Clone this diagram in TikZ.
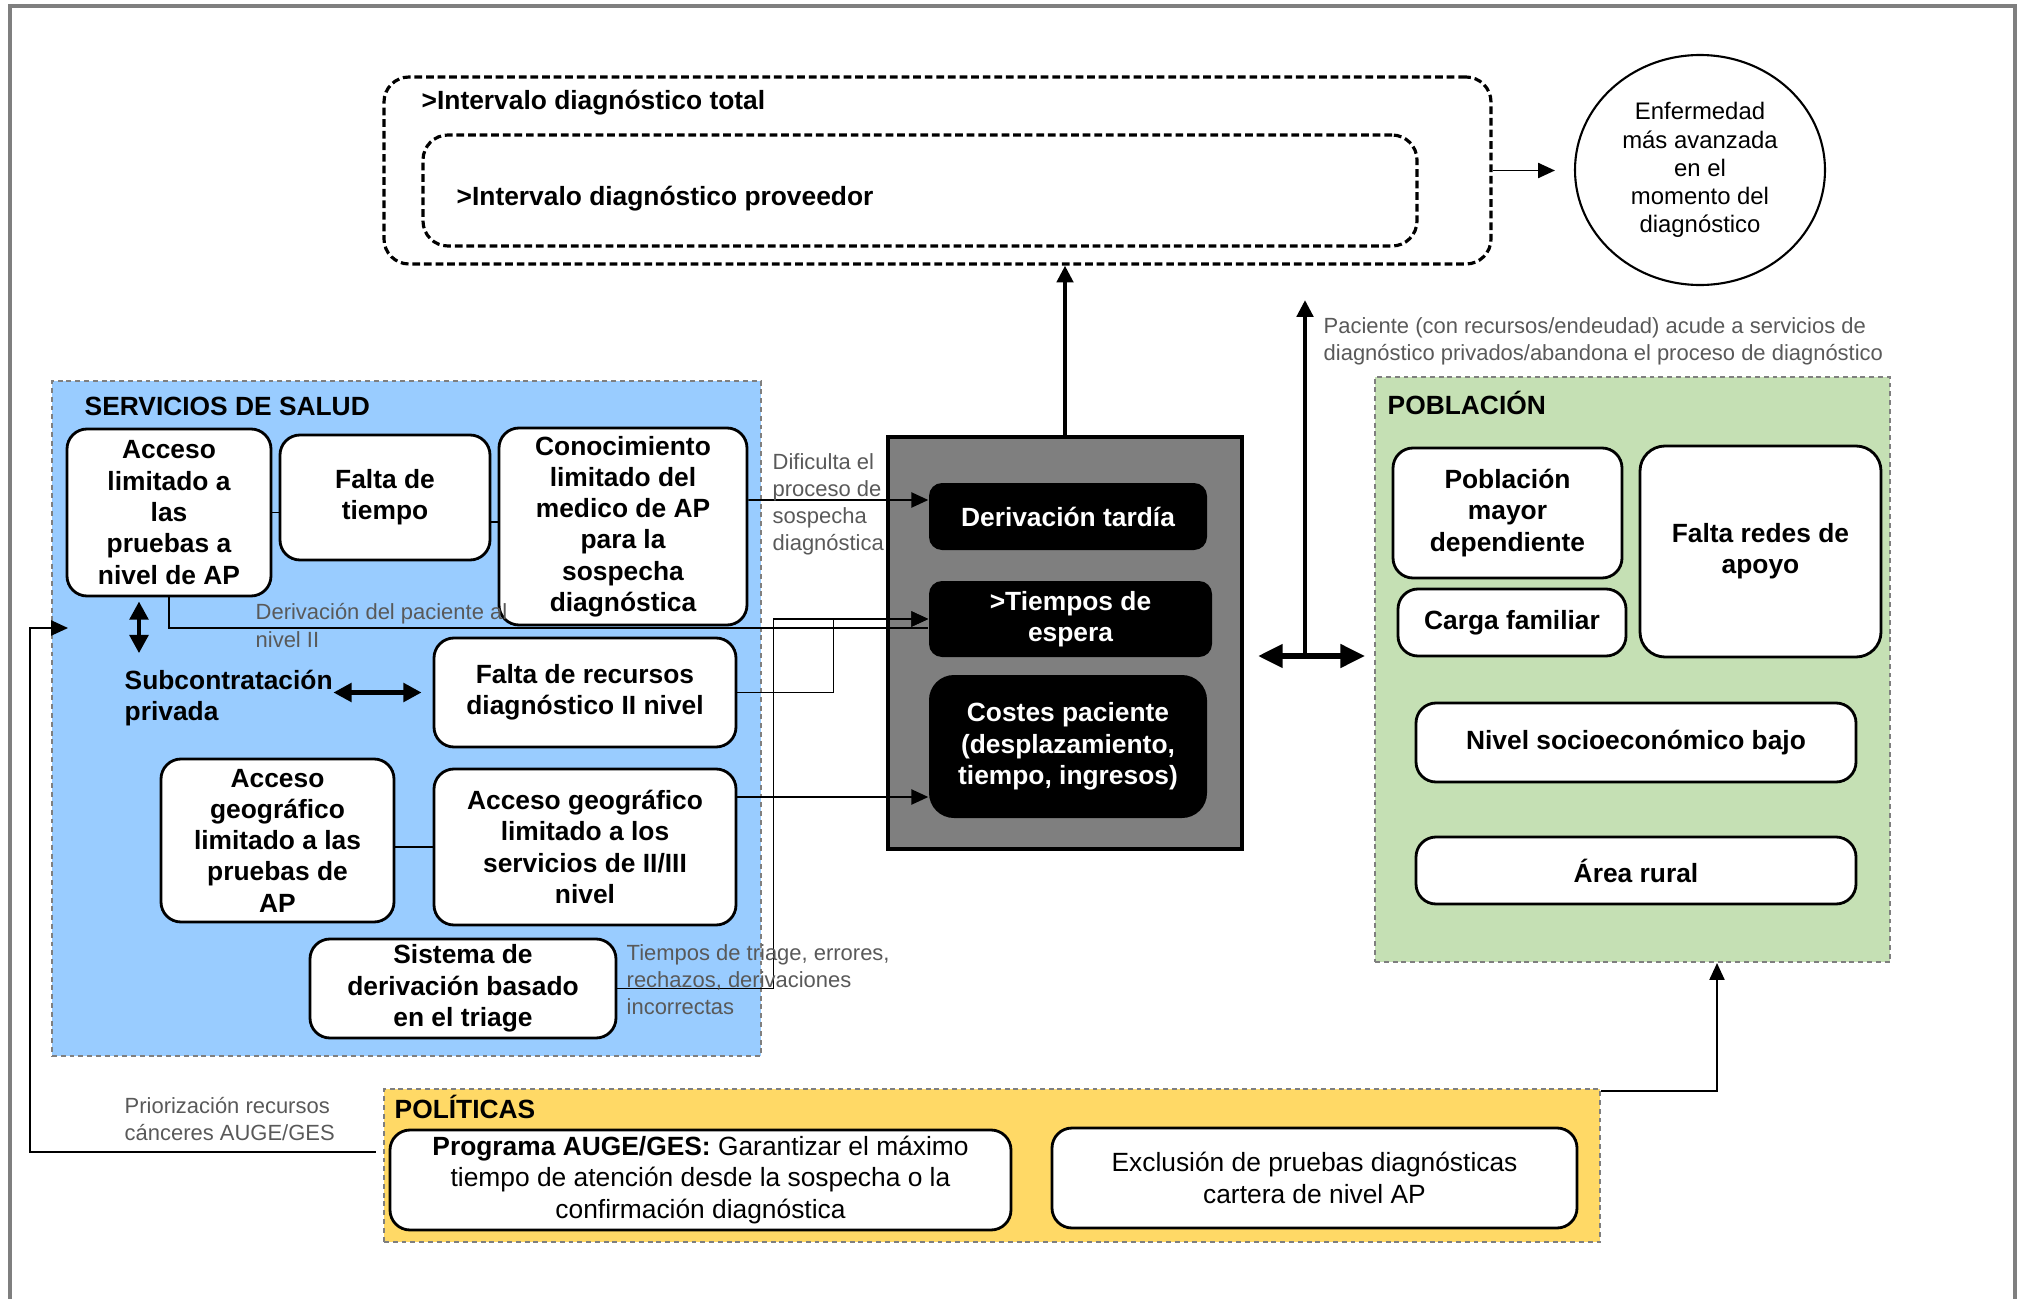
\documentclass[tikz,border=0pt]{standalone}
\usepackage{fontspec}
\setmainfont{Liberation Sans}
\usetikzlibrary{calc, positioning}
\usetikzlibrary{arrows.meta}
\usetikzlibrary{shapes.geometric}

\definecolor{saludblue}{RGB}{153,204,255}
\definecolor{pobgreen}{RGB}{197,224,180}
\definecolor{polyellow}{RGB}{255,217,102}
\definecolor{coregray}{RGB}{127,127,127}
\definecolor{notegray}{RGB}{89,89,89}

\newcommand{\cajafont}{\fontsize{7.5}{8.9}\selectfont\bfseries}
\newcommand{\textofont}{\fontsize{7.5}{9}\selectfont}
\newcommand{\circfont}{\fontsize{6.8}{8}\selectfont}
\newcommand{\notafont}{\fontsize{6.25}{7.7}\selectfont}

\begin{document}
\begin{tikzpicture}[
    region/.style={draw=coregray, dash pattern=on 1.4pt off 1.1pt, line width=0.6pt, inner sep=0pt},
    intbox/.style={draw, dash pattern=on 2.2pt off 1.1pt, line width=0.9pt, rounded corners=0.25cm, inner sep=0pt},
    card/.style={draw, fill=white, line width=0.8pt, rounded corners=0.2cm, align=center, font=\cajafont, inner sep=1pt},
    blackcard/.style={fill=black, text=white, rounded corners=0.13cm, align=center, font=\cajafont, inner sep=1pt},
    title/.style={anchor=west, font=\cajafont, inner sep=0pt},
    note/.style={anchor=west, align=left, text=notegray, font=\notafont, inner sep=0pt},
    link/.style={line width=0.5pt},
    conn/.style={line width=0.5pt, -{Triangle[length=4.8pt, width=4.3pt]}},
    bigarrow/.style={line width=1.2pt, -{Triangle[length=4.8pt, width=4.6pt]}},
    dblarrow/.style={line width=1.4pt, {Triangle[length=5.2pt, width=5.2pt]}-{Triangle[length=5.2pt, width=5.2pt]}},
    widedbl/.style={line width=1.5pt, {Triangle[length=7pt, width=6.5pt]}-{Triangle[length=7pt, width=6.5pt]}}
]
\useasboundingbox (0,0) rectangle (20.20,-12.99);

% frame
\draw[coregray, line width=1.2pt] (0.10,-12.99) -- (0.10,-0.06) -- (20.15,-0.06) -- (20.15,-12.99);

% regions
\node[region, fill=saludblue, minimum width=7.09cm, minimum height=6.75cm] (salud) at (4.065,-7.185) {};
\node[region, fill=pobgreen, minimum width=5.15cm, minimum height=5.85cm] (pob) at (16.325,-6.695) {};
\node[region, fill=polyellow, minimum width=12.16cm, minimum height=1.53cm] (pol) at (9.92,-11.655) {};
\node[intbox, minimum width=11.07cm, minimum height=1.87cm] (total) at (9.375,-1.705) {};
\node[intbox, minimum width=9.94cm, minimum height=1.11cm] (prov) at (9.20,-1.905) {};

\node[title] (totaltxt) at (4.21,-1.03) {>Intervalo diagnóstico total};
\node[title] (provtxt) at (4.56,-1.99) {>Intervalo diagnóstico proveedor};
\node[title] (saludtxt) at (0.84,-4.06) {SERVICIOS DE SALUD};
\node[title] (pobtxt) at (13.87,-4.03) {POBLACIÓN};
\node[title] (poltxt) at (3.94,-11.07) {POLÍTICAS};

\node[draw, ellipse, line width=0.6pt, minimum width=2.50cm, minimum height=2.30cm, inner sep=0pt,
      align=center, font=\circfont] (circ) at (17.00,-1.70)
      {Enfermedad\\más avanzada\\en el\\momento del\\diagnóstico};

% servicios de salud
\node[card, minimum width=2.04cm, minimum height=1.67cm] (A1) at (1.69,-5.125) {Acceso\\limitado a\\las\\pruebas a\\nivel de AP};
\node[card, minimum width=2.10cm, minimum height=1.25cm] (A2) at (3.85,-4.975) {Falta de\\tiempo};
\node[card, minimum width=2.48cm, minimum height=1.97cm] (A3) at (6.23,-5.265) {Conocimiento\\limitado del\\medico de AP\\para la\\sospecha\\diagnóstica};
\node[anchor=west, align=left, font=\cajafont, inner sep=0pt] (sub) at (1.24,-6.98) {Subcontratación\\privada};
\node[card, minimum width=3.02cm, minimum height=1.09cm] (B1) at (5.85,-6.925) {Falta de recursos\\diagnóstico II nivel};
\node[card, minimum width=2.33cm, minimum height=1.63cm] (C1) at (2.775,-8.405) {Acceso\\geográfico\\limitado a las\\pruebas de\\AP};
\node[card, minimum width=3.02cm, minimum height=1.56cm] (C2) at (5.85,-8.47) {Acceso geográfico\\limitado a los\\servicios de II/III\\nivel};
\node[card, minimum width=3.06cm, minimum height=0.99cm] (D1) at (4.63,-9.885) {Sistema de\\derivación basado\\en el triage};

% barreras
\node[draw, fill=coregray, line width=1.2pt, minimum width=3.54cm, minimum height=4.12cm] (core) at (10.65,-6.43) {};
\node[blackcard, minimum width=2.78cm, minimum height=0.67cm] (tardia) at (10.68,-5.165) {Derivación tardía};
\node[blackcard, minimum width=2.83cm, minimum height=0.76cm] (espera) at (10.705,-6.19) {>Tiempos de\\espera};
\node[blackcard, rounded corners=0.25cm, minimum width=2.78cm, minimum height=1.43cm] (costes) at (10.68,-7.465) {Costes paciente\\(desplazamiento,\\tiempo, ingresos)};

% poblacion
\node[card, minimum width=2.29cm, minimum height=1.30cm] (mayor) at (15.075,-5.13) {Población\\mayor\\dependiente};
\node[card, minimum width=2.28cm, minimum height=0.67cm] (carga) at (15.12,-6.225) {Carga familiar};
\node[card, rounded corners=0.25cm, minimum width=2.41cm, minimum height=2.11cm] (redes) at (17.605,-5.515) {Falta redes de\\apoyo};
\node[card, minimum width=4.40cm, minimum height=0.79cm] (socio) at (16.36,-7.425) {Nivel socioeconómico bajo};
\node[card, minimum width=4.40cm, minimum height=0.67cm] (rural) at (16.36,-8.705) {Área rural};

% politicas
\node[card, font=\textofont, minimum width=6.21cm, minimum height=1.00cm] (P1) at (7.005,-11.80)
      {\textbf{Programa AUGE/GES:} Garantizar el máximo\\tiempo de atención desde la sospecha o la\\confirmación diagnóstica};
\node[card, font=\textofont, minimum width=5.25cm, minimum height=1.00cm] (P2) at (13.145,-11.78)
      {Exclusión de pruebas diagnósticas\\cartera de nivel AP};

% connectors
\coordinate (hub) at (13.05,-6.56);
\coordinate (hubtop) at (13.05,-3.00);
\coordinate (entry) at (0.68,-6.28);

\draw[link] (A1.east) -- (A1.east -| A2.west);
\draw[link] ([yshift=-0.245cm]A2.east) -- ([yshift=-0.245cm]A2.east -| A3.west);
\draw[link] (C1.east |- C2.west) -- (C2.west);
\draw[dblarrow, shorten <=0.04cm, shorten >=0.16cm] ([xshift=-0.30cm]A1.south) -- ([xshift=-0.30cm]A1.south |- sub.north);
\draw[dblarrow, shorten >=0.11cm] (sub.east |- B1.west) -- (B1.west);

\draw[conn] ([yshift=0.265cm]A3.east) -- ([yshift=0.165cm]tardia.west);
\draw[link] (A1.south) |- ([yshift=-0.09cm]espera.west);
\draw[conn] (B1.east) -- ++(0.96,0) |- (espera.west);
\draw[conn] (D1.east) -- ++(1.56,0) |- (espera.west);
\draw[conn] ([yshift=0.50cm]C2.east) -- ([yshift=0.50cm]C2.east -| costes.west);

\draw[bigarrow] (core.north) -- (core.north |- total.south);
\draw[conn, shorten >=0.19cm] (total.east) -- (total.east -| circ.west);
\draw[widedbl, shorten <=0.14cm, shorten >=0.09cm] (core.east |- hub) -- (pob.west |- hub);
\draw[bigarrow] (hub) -- (hubtop);

\draw[conn] ([yshift=-0.03cm]pol.north east) -| ([xshift=0.845cm]pob.south);
\draw[conn] ([xshift=-0.13cm,yshift=0.28cm]P1.west) -| ([xshift=-0.38cm]entry) -- (entry);

% notes
\node[note] (n1) at (7.72,-5.045) {Dificulta el\\proceso de\\sospecha\\diagnóstica};
\node[note] (n2) at (2.55,-6.255) {Derivación del paciente al\\nivel II};
\node[note] (n3) at (6.26,-9.80) {Tiempos de triage, errores,\\rechazos, derivaciones\\incorrectas};
\node[note] (n4) at (1.24,-11.19) {Priorización recursos\\cánceres AUGE/GES};
\node[note] (n5) at (13.23,-3.41) {Paciente (con recursos/endeudad) acude a servicios de\\diagnóstico privados/abandona el proceso de diagnóstico};
\end{tikzpicture}
\end{document}
